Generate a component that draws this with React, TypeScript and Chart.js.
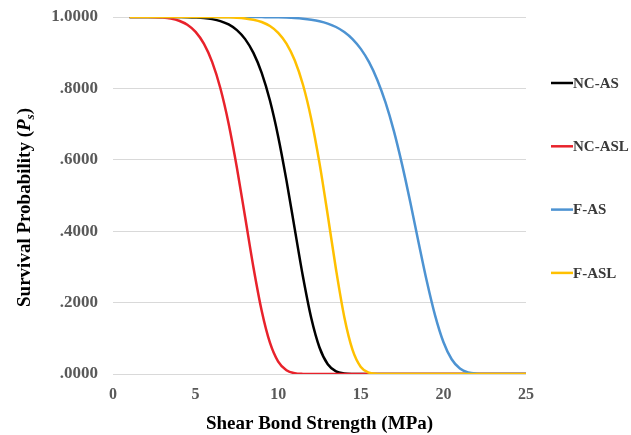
import React, { useEffect, useRef } from "react";
import { Chart, registerables } from "chart.js";

Chart.register(...registerables);

// Shear bond strength (MPa)
const xValues = [
  1, 1.5, 2, 2.5, 3, 3.5, 4, 4.5, 5, 5.5, 6, 6.5, 7, 7.5, 8, 8.5, 9, 9.5, 10, 10.5,
  11, 11.5, 12, 12.5, 13, 13.5, 14, 14.5, 15, 15.5, 16, 16.5, 17, 17.5, 18, 18.5, 19, 19.5, 20, 20.5,
  21, 21.5, 22, 22.5, 23, 23.5, 24, 24.5, 25,
];

// Survival probability per group
const ncAs = [
  1, 1, 1, 1, 1, 1, 0.9998, 0.9995, 0.9987, 0.9972, 0.9941, 0.9886, 0.9791, 0.9632, 0.938, 0.8995, 0.8436, 0.766, 0.6649, 0.5423,
  0.4065, 0.2723, 0.1568, 0.0743, 0.0273, 0.0073, 0.0013, 0.0001, 0, 0, 0, 0, 0, 0, 0, 0, 0, 0, 0, 0,
  0, 0, 0, 0, 0, 0, 0, 0, 0,
];
const ncAsl = [
  1, 1, 0.9999, 0.9995, 0.9983, 0.9955, 0.9896, 0.9783, 0.9583, 0.9253, 0.8742, 0.8003, 0.701, 0.5776, 0.4389, 0.2991, 0.1773, 0.0878, 0.0347, 0.0104,
  0.0022, 0.0003, 0, 0, 0, 0, 0, 0, 0, 0, 0, 0, 0, 0, 0, 0, 0, 0, 0, 0,
  0, 0, 0, 0, 0, 0, 0, 0, 0,
];
const fAs = [
  1, 1, 1, 1, 1, 1, 1, 1, 1, 1, 1, 1, 1, 1, 1, 1, 0.9997, 0.9995, 0.999, 0.9983,
  0.9972, 0.9954, 0.9925, 0.9882, 0.9816, 0.972, 0.958, 0.9383, 0.9107, 0.8735, 0.8238, 0.76, 0.6809, 0.5864, 0.4803, 0.3679, 0.259, 0.1635, 0.0897, 0.0413,
  0.0152, 0.0043, 0.0008, 0, 0, 0, 0, 0, 0,
];
const fAsl = [
  1, 1, 1, 1, 1, 1, 1, 1, 1, 1, 0.9998, 0.9996, 0.9991, 0.9981, 0.9961, 0.9925, 0.9859, 0.9746, 0.9557, 0.9255,
  0.8789, 0.8102, 0.7145, 0.5906, 0.4446, 0.2928, 0.1599, 0.0676, 0.0199, 0.0037, 0.0003, 0, 0, 0, 0, 0, 0, 0, 0, 0,
  0, 0, 0, 0, 0, 0, 0, 0, 0,
];

const seriesNames = ["NC-AS", "NC-ASL", "F-AS", "F-ASL"];
const seriesColors = ["#000000", "#e8222b", "#4d93d2", "#ffc000"];
const xAxisTitle = "Shear Bond Strength (MPa)";
const yAxisTitleParts = ["Survival Probability (", "P", "s", ")"];

const SERIF = '"Liberation Serif", "Times New Roman", serif';

export default function App() {
  const ref = useRef<HTMLCanvasElement>(null);

  useEffect(() => {
    if (!ref.current) return;
    const all = [ncAs, ncAsl, fAs, fAsl];

    const customPlugin = {
      id: "customDecor",
      afterDraw(chart: any) {
        const ctx = chart.ctx as CanvasRenderingContext2D;
        const ca = chart.chartArea;
        ctx.save();
        // legend
        seriesNames.forEach((name, i) => {
          const y = ca.top + 66 + i * 63.3;
          const x0 = ca.right + 25;
          ctx.strokeStyle = seriesColors[i];
          ctx.lineWidth = 2.5;
          ctx.beginPath();
          ctx.moveTo(x0, y);
          ctx.lineTo(x0 + 22, y);
          ctx.stroke();
          ctx.fillStyle = "#3a3a3a";
          ctx.font = `bold 15px ${SERIF}`;
          ctx.textBaseline = "middle";
          ctx.textAlign = "left";
          ctx.fillText(name, x0 + 22, y + 1);
        });
        ctx.restore();

        // y axis title with italic P and subscript s
        ctx.save();
        ctx.translate(30, (ca.top + ca.bottom) / 2 + 12);
        ctx.rotate(-Math.PI / 2);
        ctx.fillStyle = "#000";
        ctx.textBaseline = "alphabetic";
        ctx.textAlign = "left";
        const fonts = [
          `bold 19px ${SERIF}`,
          `italic bold 19px ${SERIF}`,
          `italic bold 13px ${SERIF}`,
          `bold 19px ${SERIF}`,
        ];
        const offs = [0, 0, 4, 0];
        const widths = yAxisTitleParts.map((t, i) => {
          ctx.font = fonts[i];
          return ctx.measureText(t).width;
        });
        const total = widths.reduce((a, b) => a + b, 0);
        let x = -total / 2;
        yAxisTitleParts.forEach((t, i) => {
          ctx.font = fonts[i];
          ctx.fillText(t, x, offs[i]);
          x += widths[i];
        });
        ctx.restore();
      },
    };

    const chart = new Chart(ref.current, {
      type: "line",
      data: {
        datasets: all.map((arr, i) => ({
          label: seriesNames[i],
          data: xValues.map((x, j) => ({ x, y: arr[j] })),
          borderColor: seriesColors[i],
          backgroundColor: seriesColors[i],
          borderWidth: 2.5,
          pointRadius: 0,
          fill: false,
          cubicInterpolationMode: "monotone" as const,
          order: 3 - i,
        })),
      },
      options: {
        animation: false,
        responsive: true,
        maintainAspectRatio: false,
        devicePixelRatio: 1,
        layout: { padding: { left: 0, right: 105, top: 17, bottom: 0 } },
        plugins: {
          legend: { display: false },
          tooltip: { enabled: false },
        },
        scales: {
          x: {
            type: "linear",
            min: 0,
            max: 25,
            grid: { display: false, drawTicks: false },
            border: { display: false },
            ticks: {
              stepSize: 5,
              padding: 11,
              color: "#595959",
              font: { family: SERIF, size: 16, weight: "bold" },
            },
            title: {
              display: true,
              text: xAxisTitle,
              color: "#000",
              padding: 0,
              font: { family: SERIF, size: 19, weight: "bold" },
            },
            afterFit: (scale: any) => {
              scale.height = 61;
            },
          },
          y: {
            min: 0,
            max: 1,
            grid: { color: "#d9d9d9", lineWidth: 1, drawTicks: false },
            border: { display: false },
            ticks: {
              stepSize: 0.2,
              padding: 15,
              color: "#595959",
              font: { family: SERIF, size: 17, weight: "bold" },
              callback: (v: any) => {
                const s = Number(v).toFixed(4);
                return s.startsWith("0") ? s.slice(1) : s;
              },
            },
            afterFit: (scale: any) => {
              scale.width = 113;
              scale.paddingTop = 0;
              scale.paddingBottom = 0;
            },
          },
        },
      },
      plugins: [customPlugin],
    });
    return () => chart.destroy();
  }, []);

  return (
    <div style={{ position: "fixed", left: 0, top: 0, width: 631, height: 435, background: "#fff" }}>
      <canvas ref={ref} />
    </div>
  );
}
